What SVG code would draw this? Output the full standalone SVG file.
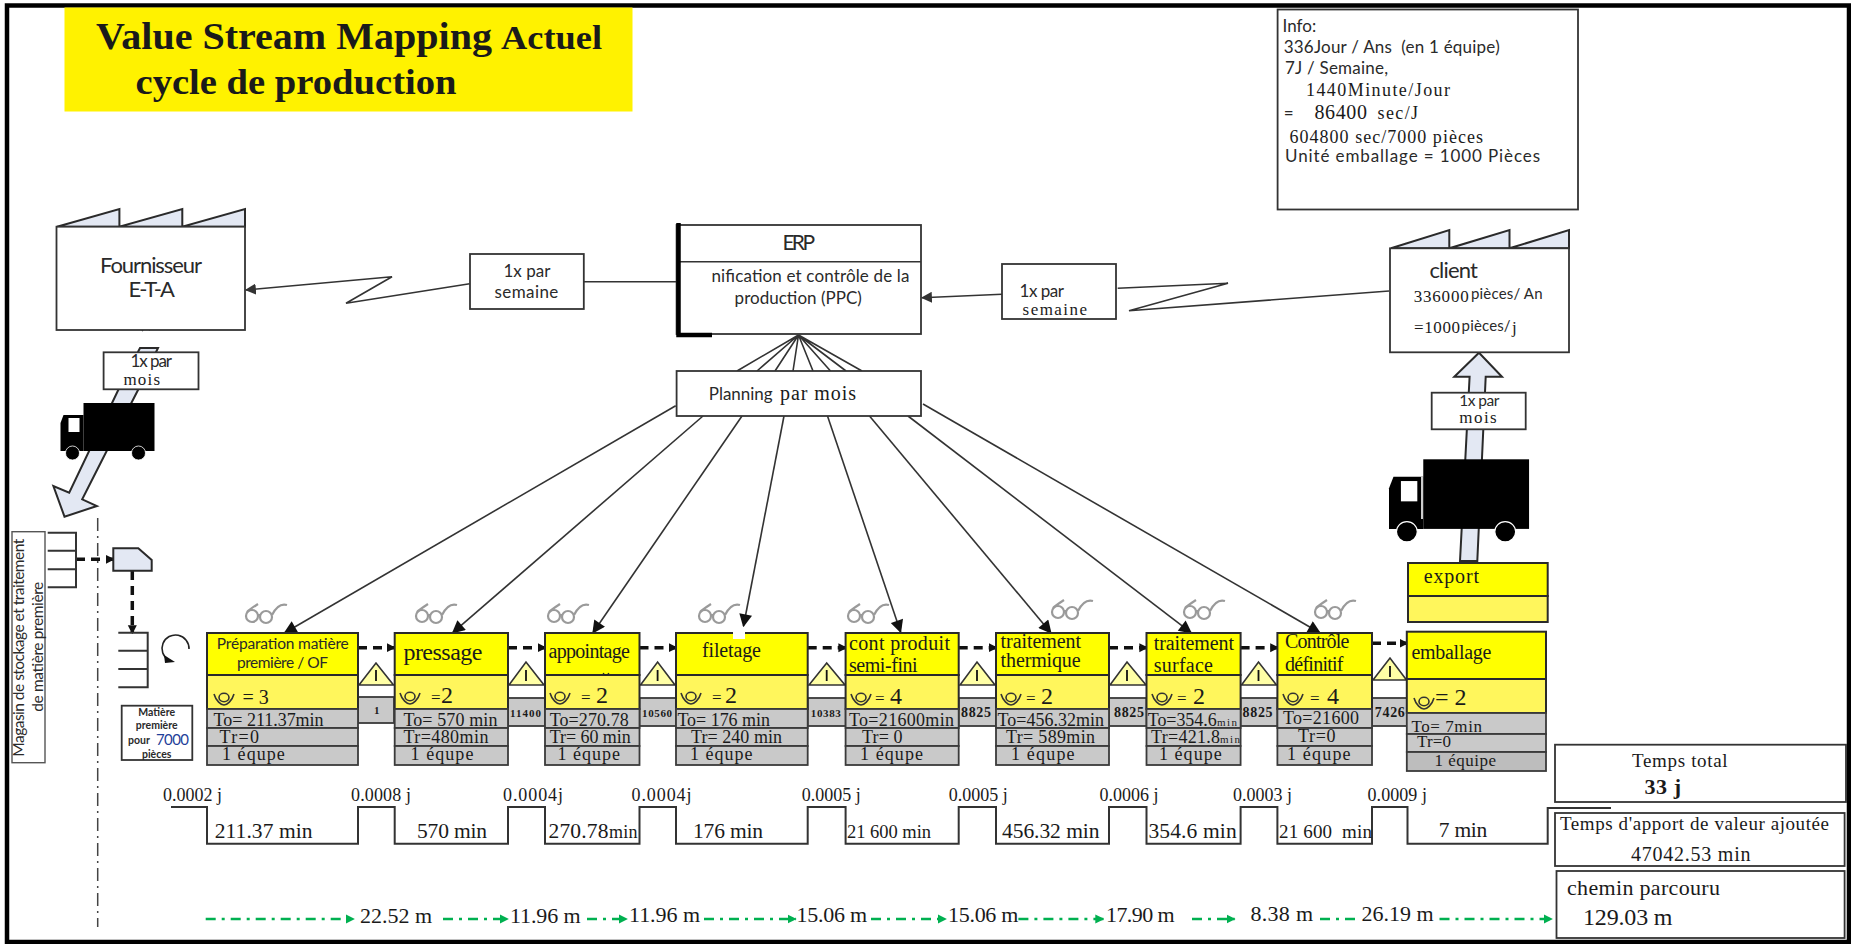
<svg xmlns="http://www.w3.org/2000/svg" width="1851" height="944" viewBox="0 0 1851 944">
<style>
text{fill:#1a1a1a;font-family:"Liberation Serif","Times New Roman",serif;font-size:18px;white-space:pre}
.s{font-family:Lato,"Open Sans",sans-serif;fill:#2a2a2a}
.f15{font-size:15.5px}.f16{font-size:17px}.f17{font-size:17px}.f20{font-size:20px}.f21{font-size:22px}.f22{font-size:22px}.f24{font-size:24px}
.i{font-size:17px}.n{font-size:11px;font-weight:bold}.n14{font-size:14px;font-weight:bold}.j{font-size:18px}.v{font-size:21.5px}.d{font-size:22px}
.box{fill:#fff;stroke:#333;stroke-width:1.8}
.y1{fill:#ffff00;stroke:#2a2a2a;stroke-width:2}.y2{fill:#fff65c;stroke:#2a2a2a;stroke-width:2}.g{fill:#c9c9c9;stroke:#3a3a3a;stroke-width:1.8}
.tri{fill:#ffffa6;stroke:#333;stroke-width:1.6}
.ice{fill:#e3e8f3;stroke:#2a2a2a;stroke-width:2}
.ln{fill:none;stroke:#333;stroke-width:1.6}
.inv{fill:none;stroke:#333;stroke-width:2}
.push{fill:none;stroke:#111;stroke-width:3.5;stroke-dasharray:9 6}
.gr{fill:none;stroke:#00b050;stroke-width:2.5;stroke-dasharray:10 6 3 6}
.tl{fill:none;stroke:#333;stroke-width:2}
</style>
<defs>
<marker id="a" viewBox="0 0 10 10" refX="9" refY="5" markerWidth="15" markerHeight="13" markerUnits="userSpaceOnUse" orient="auto"><path d="M0 0L10 5L0 10z" fill="#111"/></marker>
<marker id="ag" viewBox="0 0 10 10" refX="9" refY="5" markerWidth="11" markerHeight="11" markerUnits="userSpaceOnUse" orient="auto"><path d="M0 0L10 5L0 10z" fill="#333"/></marker>
<marker id="p" viewBox="0 0 10 10" refX="8" refY="5" markerWidth="9" markerHeight="12" markerUnits="userSpaceOnUse" orient="auto"><path d="M0 0L10 5L0 10z" fill="#111"/></marker>
<marker id="g" viewBox="0 0 10 10" refX="9" refY="5" markerWidth="9" markerHeight="11" markerUnits="userSpaceOnUse" orient="auto"><path d="M0 0L10 5L0 10z" fill="#00b050"/></marker>
<symbol id="op" width="22" height="14" viewBox="0 0 22 14" overflow="visible"><path d="M1 2C3 9 8 13 11 13C14 13 19 9 21 2" fill="none" stroke="#333" stroke-width="1.6"/><ellipse cx="11" cy="5.5" rx="5" ry="4.2" fill="none" stroke="#333" stroke-width="1.6"/></symbol>
<symbol id="gl" width="43" height="21" viewBox="0 0 43 21" overflow="visible"><g fill="none" stroke="#9a9a9a" stroke-width="2.2"><circle cx="7" cy="13" r="6"/><circle cx="21" cy="14" r="6"/><path d="M13 12L15 12M2 9C5 6 10 3 13 1M27 12C30 6 35 0 42 2"/></g></symbol>
<g id="truck"><rect x="23" y="0" width="71" height="48" fill="#000"/><path d="M0 48V20L3 12H23V48z" fill="#000"/><rect x="8" y="15" width="11" height="14" fill="#fff"/><circle cx="12" cy="50" r="7" fill="#000" stroke="#fff" stroke-width=".8"/><circle cx="78" cy="50" r="7" fill="#000" stroke="#fff" stroke-width=".8"/></g>
</defs>
<rect width="1851" height="944" fill="#fff"/>
<rect x="7" y="5.5" width="1842" height="936.5" fill="none" stroke="#000" stroke-width="4.5"/>

<g id="title"><rect x="64.5" y="7.5" width="568" height="104" fill="#fff200"/>
<text x="96" y="49" font-weight="bold" style="font-size:38px" textLength="396" lengthAdjust="spacingAndGlyphs">Value Stream Mapping</text>
<text x="501" y="49" font-weight="bold" style="font-size:33px" textLength="101" lengthAdjust="spacingAndGlyphs">Actuel</text>
<text x="135.5" y="93.5" font-weight="bold" style="font-size:35px" textLength="321" lengthAdjust="spacingAndGlyphs">cycle de production</text></g>

<g id="connectors">
<path class="ln" d="M798.5 335L737 371M798.5 335L757 371M798.5 335L775 371M798.5 335L793 371M798.5 335L813 371M798.5 335L830.5 371M798.5 335L846 371M798.5 335L862 371"/>
<g class="ln">
<path d="M675.7 405.7L284.8 632.7" marker-end="url(#a)"/><path d="M703 416L452.8 632.7" marker-end="url(#a)"/><path d="M742 416L593 632.7" marker-end="url(#a)"/><path d="M784 416L743.5 626" marker-end="url(#a)"/><path d="M827.5 416L900.6 632" marker-end="url(#a)"/><path d="M869.5 416L1050.8 632.7" marker-end="url(#a)"/><path d="M908 416L1191 632.7" marker-end="url(#a)"/><path d="M923 404L1319.7 632.7" marker-end="url(#a)"/>
</g>
<path class="ln" d="M469.7 283.7L346 303.3L392 276.7L246 290" marker-end="url(#ag)"/>
<path class="ln" d="M584 281.7H676"/>
<path class="ln" d="M1002 294.3L922 297.7" marker-end="url(#ag)"/>
<path class="ln" d="M1117.7 288.3L1228 283.3L1129 310.7L1389 291"/>
<path class="ln" d="M142 331L145 327L150 330"/>
<g class="push"><path d="M358 647.7H394" marker-end="url(#p)"/><path d="M508 647.7H545" marker-end="url(#p)"/><path d="M639.5 647.7H676" marker-end="url(#p)"/><path d="M807.7 647.7H845.6" marker-end="url(#p)"/><path d="M958.7 647.7H996" marker-end="url(#p)"/><path d="M1109 647.7H1146.5" marker-end="url(#p)"/><path d="M1240.6 647.7H1277.4" marker-end="url(#p)"/><path d="M1372 643.3H1406.8" marker-end="url(#p)"/>
<path d="M76 559.3H113" marker-end="url(#p)"/><path d="M132.3 571V632.5" marker-end="url(#p)"/></g>
<path d="M97.7 518V927" fill="none" stroke="#444" stroke-width="1.5" stroke-dasharray="13 5 2 5"/>
<path class="tl" d="M171 807H207V843.7H358V807H394.7V843.7H508V807H545V843.7H639.5V807H676V843.7H807.7V807H845.6V843.7H958.7V807H996V843.7H1109V807H1146.5V843.7H1240.6V807H1277.4V843.7H1372V807H1407.5V843.7H1547.7V808H1611"/>
<g class="gr"><path d="M205.7 919H354" marker-end="url(#g)"/><path d="M443 919H508" marker-end="url(#g)"/><path d="M587 919H627" marker-end="url(#g)"/><path d="M704 919H795.8" marker-end="url(#g)"/><path d="M871 919H946" marker-end="url(#g)"/><path d="M1018.4 919H1103.4" marker-end="url(#g)"/><path d="M1192 919H1234.7" marker-end="url(#g)"/><path d="M1320 919H1358"/><path d="M1439.5 919H1552" marker-end="url(#g)"/></g>
</g>

<g id="arrow-in"><path class="ice" d="M140 348H158L138.4 389.3L106.8 450.7L82.2 499.3L96.9 506L64.5 516.7L53.4 486L69.2 492.7L118.6 389.3z"/></g>
<g id="arrow-out"><path class="ice" d="M1479 352.7L1502 376.7H1485.7L1477.3 561H1460L1469.6 376.7H1454.3z"/></g>
<g id="truck-in"><use href="#truck" x="60.5" y="403"/></g>
<g id="truck-out"><g transform="translate(1389 459.3) scale(1.49 1.45)"><use href="#truck"/></g><rect x="1421" y="477" width="2" height="42" fill="#ccc"/></g>

<g id="fournisseur"><path class="ice" d="M57 226.7L119.4 209V226.7L182.3 209V226.7L245 209V226.7z"/><rect class="box" x="56.5" y="226.7" width="188.5" height="103.3"/>
<text class="s f21" x="100" y="272.7" textLength="102">Fournisseur</text><text class="s f21" x="128.5" y="297.3" textLength="46.5">E-T-A</text></g>
<g id="client"><path class="ice" d="M1391 248.3L1449.3 230V248.3L1509.5 230V248.3L1569 230V248.3z"/><rect class="box" x="1390" y="248.3" width="179" height="104"/>
<text class="s f21" x="1429.4" y="278.3" textLength="48.6">client</text><text class="f17" x="1413.7" y="301.7" textLength="55">336000</text><text class="s" x="1471" y="299" style="font-size:15px" textLength="71.5">pièces/ An</text>
<text class="f17" x="1414" y="332.7" textLength="46">=1000</text><text class="s" x="1461.6" y="331" style="font-size:15px" textLength="49">pièces/</text><text class="f16" x="1512" y="332.7">j</text></g>
<g id="info"><rect class="box" x="1277.6" y="9.5" width="300.4" height="200"/>
<text class="s i" x="1282.6" y="31.7">Info:</text>
<text class="s i" x="1283.7" y="53.3" textLength="216">336Jour / Ans  (en 1 équipe)</text>
<text class="s i" x="1285" y="74" textLength="103">7J / Semaine,</text>
<text class="i" x="1306" y="96" style="font-size:18px" textLength="144">1440Minute/Jour</text>
<text class="s i" x="1283.7" y="119.3">=</text><text class="f20" x="1314.4" y="119.3" textLength="52.6">86400</text><text class="j" x="1377.6" y="119.3" textLength="40.4">sec/J</text>
<text class="i" x="1289.5" y="142.7" style="font-size:18px" textLength="193.5">604800 sec/7000 pièces</text>
<text class="s i" x="1285" y="162.3" textLength="255">Unité emballage = 1000 Pièces</text></g>
<g id="erp"><rect class="box" x="676.6" y="225" width="244.4" height="109"/><path d="M676.6 261.7H921" class="ln" stroke-width="2"/><path d="M678.5 223V335H712" fill="none" stroke="#000" stroke-width="4.5"/>
<text class="s" style="font-size:21px" x="782.4" y="250" textLength="32.6">ERP</text><text class="s f16" x="711.4" y="281.7" textLength="198">nification et contrôle de la</text><text class="s f16" x="734.6" y="304" textLength="127.3">production (PPC)</text></g>
<g id="planning"><rect class="box" x="676.6" y="371" width="244.4" height="45"/><text class="s f16" x="708.8" y="400" textLength="63.8">Planning</text><text class="f20" x="780" y="400" textLength="76">par mois</text></g>
<g id="freq-left"><rect class="box" x="470" y="254" width="113.8" height="55"/><text class="s f16" x="503.4" y="277.3" textLength="47">1x par</text><text class="s f16" x="494.5" y="298.3" textLength="63.8">semaine</text></g>
<g id="freq-right"><rect class="box" x="1002" y="264" width="114" height="55"/><text class="s f16" x="1019.5" y="296.5" textLength="44.5">1x par</text><text class="f17" x="1022.6" y="314.5" textLength="64.4">semaine</text></g>
<g id="freq-in"><rect class="box" x="103.6" y="352.3" width="94.9" height="37"/><text class="s f16" x="130.5" y="366.5" textLength="41.5">1x par</text><text class="f17" x="123.4" y="384.5" textLength="36.6">mois</text></g>
<g id="freq-out"><rect class="box" x="1431.7" y="392.7" width="94" height="36.6"/><text class="s f15" x="1459.3" y="405.5" textLength="40">1x par</text><text class="f16" x="1459.3" y="423" textLength="37.4">mois</text></g>

<g id="magasin"><rect x="12" y="531.7" width="33" height="231" fill="#fff" stroke="#555" stroke-width="1.4"/>
<text class="s" style="font-size:15.5px" transform="translate(23.7 756.7) rotate(-90)" textLength="218">Magasin de stockage et traitement</text>
<text class="s" style="font-size:15.5px" transform="translate(43.3 711.7) rotate(-90)" textLength="130">de matière première</text>
<path class="inv" d="M47.7 532.7H76V587.3H47.7M47.7 550.7H76M47.7 569.3H76"/></g>
<g id="supermarche"><path class="ice" d="M113.3 548.3H138.3L151.7 560V570.7H113.3z"/></g>
<g id="stock"><path class="inv" d="M118.3 632.7H147.7V687.3H118.3M118.3 650.7H147.7M118.3 669H147.7"/>
<path d="M189 649A13.5 13.5 0 1 0 168.5 660" fill="none" stroke="#222" stroke-width="1.6"/><path d="M164 655L175 662L165 663z" fill="#111"/></g>
<g id="matiere"><rect class="box" x="121.7" y="705.7" width="70.6" height="54.3"/>
<text class="s" style="font-size:10.5px;font-weight:bold" x="156.7" y="715.5" text-anchor="middle">Matière</text><text class="s" style="font-size:10.5px;font-weight:bold" x="156.7" y="729" text-anchor="middle">première</text><text class="s" style="font-size:10.5px;font-weight:bold" x="128" y="744">pour</text><text class="s" style="font-size:15px;fill:#1f3f9a" x="156" y="745" textLength="33">7000</text><text class="s" style="font-size:10.5px;font-weight:bold" x="156.7" y="758" text-anchor="middle">pièces</text></g>

<g id="stocks">
<g class="g"><rect x="358" y="697" width="36" height="26"/><rect x="508" y="698" width="37" height="28"/><rect x="639.5" y="698" width="36.5" height="28"/><rect x="807.7" y="698" width="38" height="28"/><rect x="958.7" y="698" width="37.3" height="28"/><rect x="1109" y="698" width="37.5" height="28"/><rect x="1240.6" y="698" width="36.8" height="28"/><rect x="1372" y="698" width="35" height="28"/></g>
<g class="tri"><path d="M359 685L376 663L393.5 685z"/><path d="M509 685L526 662L544 685z"/><path d="M640.5 685L657.6 662L675 685z"/><path d="M809 685L826.7 663L845 685z"/><path d="M960 685L977 662L995 685z"/><path d="M1110 685L1127 662L1146 685z"/><path d="M1241.5 685L1258.5 662L1276.5 685z"/><path d="M1373 680L1390 658L1406.5 680z"/></g>
<path d="M376 670V681M526 670V681M657.6 670V681M826.7 670V681M977 670V681M1127 670V681M1258.5 670V681M1390 666V677" stroke="#111" stroke-width="1.8" fill="none"/>
<text class="n" x="374" y="714">1</text><text class="n" x="510" y="716.7" textLength="31">11400</text><text class="n" x="642" y="716.7" textLength="30">10560</text><text class="n" x="810.8" y="716.7" textLength="30">10383</text><text class="n14" x="961" y="716.7" textLength="30">8825</text><text class="n14" x="1114" y="716.7" textLength="30">8825</text><text class="n14" x="1242.6" y="716.7" textLength="30">8825</text><text class="n14" x="1374.8" y="716.7" textLength="30">7426</text>
</g>

<g id="glasses"><use href="#gl" x="245" y="603"/><use href="#gl" x="415" y="603"/><use href="#gl" x="547" y="603"/><use href="#gl" x="698" y="603"/><use href="#gl" x="847" y="603"/><use href="#gl" x="1051" y="599"/><use href="#gl" x="1183" y="599"/><use href="#gl" x="1314" y="599"/></g>

<g id="p1"><rect class="y1" x="207" y="633" width="151" height="42"/><rect class="y2" x="207" y="675" width="151" height="34"/><rect class="g" x="207" y="709" width="151" height="19"/><rect class="g" x="207" y="728" width="151" height="18"/><rect class="g" x="207" y="746" width="151" height="19"/>
<text class="s f15" x="216.8" y="649.3" textLength="132">Préparation matière</text><text class="s f15" x="237" y="667.7" textLength="91">première / OF</text><use href="#op" x="213" y="692"/><text class="f20" x="242.5" y="704">= 3</text><text x="213.6" y="725.7" textLength="110">To= 211.37min</text><text x="219.5" y="743.3" textLength="39.5">Tr=0</text><text x="222" y="760" textLength="62.8">1 équpe</text></g>
<g id="p2"><rect class="y1" x="394.7" y="633" width="113.3" height="42"/><rect class="y2" x="394.7" y="675" width="113.3" height="34"/><rect class="g" x="394.7" y="709" width="113.3" height="19"/><rect class="g" x="394.7" y="728" width="113.3" height="18"/><rect class="g" x="394.7" y="746" width="113.3" height="19"/>
<text class="f24" x="403.4" y="660" textLength="79">pressage</text><use href="#op" x="399" y="691"/><text class="f17" x="431" y="703">=</text><text class="f24" x="441" y="703">2</text><text x="403.4" y="725.7" textLength="94">To= 570 min</text><text x="403.4" y="742.7" textLength="85">Tr=480min</text><text x="410.5" y="760" textLength="62.9">1 équpe</text></g>
<g id="p3"><rect class="y1" x="545" y="633" width="94.5" height="42"/><rect class="y2" x="545" y="675" width="94.5" height="34"/><rect class="g" x="545" y="709" width="94.5" height="19"/><rect class="g" x="545" y="728" width="94.5" height="18"/><rect class="g" x="545" y="746" width="94.5" height="19"/><path d="M603 673Q606 677 609 673" fill="none" stroke="#222" stroke-width="1.2"/>
<text class="f20" x="548.5" y="658" textLength="81.5">appointage</text><use href="#op" x="549" y="691"/><text class="f17" x="581" y="703">=</text><text class="f24" x="596" y="703">2</text><text x="549.7" y="725.7" textLength="79">To=270.78</text><text x="549.7" y="743" textLength="81">Tr= 60 min</text><text x="557.6" y="760" textLength="62.4">1 équpe</text></g>
<g id="p4"><rect class="y1" x="676" y="633" width="131.7" height="42"/><rect class="y2" x="676" y="675" width="131.7" height="34"/><rect class="g" x="676" y="709" width="131.7" height="19"/><rect class="g" x="676" y="728" width="131.7" height="18"/><rect class="g" x="676" y="746" width="131.7" height="19"/><rect x="733" y="627" width="12" height="12" fill="#fff"/>
<text class="f20" x="702" y="657" textLength="59">filetage</text><use href="#op" x="680" y="691"/><text class="f17" x="712" y="703">=</text><text class="f24" x="725" y="703">2</text><text x="677.4" y="725.7" textLength="92.6">To= 176 min</text><text x="691" y="743" textLength="91">Tr= 240 min</text><text x="690" y="760" textLength="62.5">1 équpe</text></g>
<g id="p5"><rect class="y1" x="845.6" y="633" width="113.1" height="42"/><rect class="y2" x="845.6" y="675" width="113.1" height="34"/><rect class="g" x="845.6" y="709" width="113.1" height="19"/><rect class="g" x="845.6" y="728" width="113.1" height="18"/><rect class="g" x="845.6" y="746" width="113.1" height="19"/>
<text class="f20" x="849" y="650" textLength="101">cont produit</text><text class="f20" x="849" y="671.7" textLength="68.6">semi-fini</text><use href="#op" x="850" y="692"/><text class="f17" x="875" y="704">=</text><text class="f24" x="890" y="704">4</text><text x="849" y="725.7" textLength="105">To=21600min</text><text x="862" y="743" textLength="40.6">Tr= 0</text><text x="860" y="760" textLength="63">1 équpe</text></g>
<g id="p6"><rect class="y1" x="996" y="633" width="113" height="42"/><rect class="y2" x="996" y="675" width="113" height="34"/><rect class="g" x="996" y="709" width="113" height="19"/><rect class="g" x="996" y="728" width="113" height="18"/><rect class="g" x="996" y="746" width="113" height="19"/>
<text class="f20" x="1000.6" y="648" textLength="80.4">traitement</text><text class="f20" x="1000.6" y="667.3" textLength="80">thermique</text><use href="#op" x="1000" y="692"/><text class="f17" x="1026" y="704">=</text><text class="f24" x="1041" y="704">2</text><text x="997.5" y="725.7" textLength="106.5">To=456.32min</text><text x="1006" y="743" textLength="89">Tr= 589min</text><text x="1011" y="760" textLength="63.6">1 équpe</text></g>
<g id="p7"><rect class="y1" x="1146.5" y="633" width="94.1" height="42"/><rect class="y2" x="1146.5" y="675" width="94.1" height="34"/><rect class="g" x="1146.5" y="709" width="94.1" height="19"/><rect class="g" x="1146.5" y="728" width="94.1" height="18"/><rect class="g" x="1146.5" y="746" width="94.1" height="19"/>
<text class="f20" x="1153.7" y="650" textLength="80.3">traitement</text><text class="f20" x="1153.7" y="671.7" textLength="59.3">surface</text><use href="#op" x="1151" y="692"/><text class="f17" x="1177" y="704">=</text><text class="f24" x="1193" y="704">2</text><text x="1147.7" y="725.7" textLength="69">To=354.6</text><text style="font-size:11px" x="1217" y="725.7" textLength="20">min</text><text x="1151" y="743" textLength="69">Tr=421.8</text><text style="font-size:11px" x="1220" y="743" textLength="20">min</text><text x="1159" y="760" textLength="62.7">1 équpe</text></g>
<g id="p8"><rect class="y1" x="1277.4" y="633" width="94.6" height="42"/><rect class="y2" x="1277.4" y="675" width="94.6" height="34"/><rect class="g" x="1277.4" y="709" width="94.6" height="19"/><rect class="g" x="1277.4" y="728" width="94.6" height="18"/><rect class="g" x="1277.4" y="746" width="94.6" height="19"/>
<text class="f20" x="1285" y="648.3" textLength="64.4">Contrôle</text><text class="f20" x="1285" y="670.7" textLength="58.5">définitif</text><use href="#op" x="1282" y="692"/><text class="f17" x="1310" y="704">=</text><text class="f24" x="1327" y="704">4</text><text x="1283" y="724.3" textLength="76">To=21600</text><text x="1298" y="742" textLength="37.5">Tr=0</text><text x="1287" y="760" textLength="63.6">1 équpe</text></g>
<g id="p9"><rect class="y1" x="1406.8" y="631.7" width="139.2" height="47.3"/><rect class="y2" x="1406.8" y="679" width="139.2" height="34"/><rect class="g" x="1406.8" y="713" width="139.2" height="21"/><rect class="g" x="1406.8" y="734" width="139.2" height="18"/><rect x="1406.8" y="752" width="139.2" height="19" fill="#bdbdbd" stroke="#3a3a3a" stroke-width="1.8"/>
<text class="f20" x="1411.4" y="659" textLength="80">emballage</text><use href="#op" x="1413" y="696"/><text class="f24" x="1435" y="705">= 2</text><text class="f17" x="1411.4" y="731.7" textLength="70.6">To= 7min</text><text class="f17" x="1417" y="747.3" textLength="34">Tr=0</text><text class="f17" x="1434.6" y="766" textLength="61.4">1 équipe</text></g>
<g id="export"><rect class="y1" x="1408" y="563" width="139.7" height="33"/><rect class="y2" x="1408" y="596" width="139.7" height="26"/><text class="f20" x="1423.7" y="582.7" textLength="55.3">export</text></g>

<g id="labels-time">
<text class="j" x="163" y="800.5" textLength="59">0.0002 j</text><text class="j" x="351" y="800.5" textLength="60">0.0008 j</text><text class="j" x="503" y="800.5" textLength="60">0.0004j</text><text class="j" x="631.5" y="800.5" textLength="60">0.0004j</text><text class="j" x="801.7" y="800.5" textLength="59">0.0005 j</text><text class="j" x="948.8" y="800.5" textLength="59">0.0005 j</text><text class="j" x="1099.5" y="800.5" textLength="59">0.0006 j</text><text class="j" x="1233" y="800.5" textLength="59">0.0003 j</text><text class="j" x="1367.5" y="800.5" textLength="59.5">0.0009 j</text>
<text class="v" x="214.8" y="838.3" textLength="97.7">211.37 min</text><text class="v" x="417" y="838.3" textLength="70">570 min</text><text class="v" x="548.5" y="838.3" textLength="60">270.78</text><text x="609" y="838.3" textLength="28.5">min</text><text class="v" x="693" y="838.3" textLength="70">176 min</text><text style="font-size:18.5px" x="847" y="838.3" textLength="84">21 600 min</text><text class="v" x="1002" y="838.3" textLength="97.5">456.32 min</text><text class="v" x="1148.5" y="838.3" textLength="88.2">354.6 min</text><text style="font-size:19px" x="1279" y="838.3" textLength="93">21 600  min</text><text class="v" x="1438.8" y="837" textLength="48.5">7 min</text>
</g>
<g id="labels-dist">
<text class="d" x="360" y="923.3" textLength="72">22.52 m</text><text class="d" x="510" y="923.3" textLength="70.5">11.96 m</text><text class="d" x="629" y="921.7" textLength="71">11.96 m</text><text class="d" x="796.6" y="922" textLength="70.4">15.06 m</text><text class="d" x="948" y="922" textLength="70.4">15.06 m</text><text class="d" x="1106" y="922" textLength="68.6">17.90 m</text><text class="d" x="1250.5" y="920.7" textLength="62.5">8.38 m</text><text class="d" x="1361.5" y="920.7" textLength="72">26.19 m</text>
</g>
<g id="temps-total"><rect class="box" x="1555" y="744.7" width="291" height="57.3"/><text x="1632" y="766.7" style="font-size:19px" textLength="95.6">Temps total</text><text x="1644.4" y="794.3" font-weight="bold" style="font-size:22px" textLength="36.6">33 j</text></g>
<g id="temps-va"><rect class="box" x="1555" y="813" width="289.6" height="53"/><text x="1560" y="830" style="font-size:19px" textLength="269">Temps d'apport de valeur ajoutée</text><text x="1631" y="860.7" style="font-size:20px" textLength="119.5">47042.53 min</text></g>
<g id="chemin"><rect class="box" x="1556.5" y="871" width="288.1" height="67"/><text class="f22" x="1567" y="895" textLength="153">chemin parcouru</text><text class="f24" x="1583" y="925" textLength="89.5">129.03 m</text></g>
</svg>
